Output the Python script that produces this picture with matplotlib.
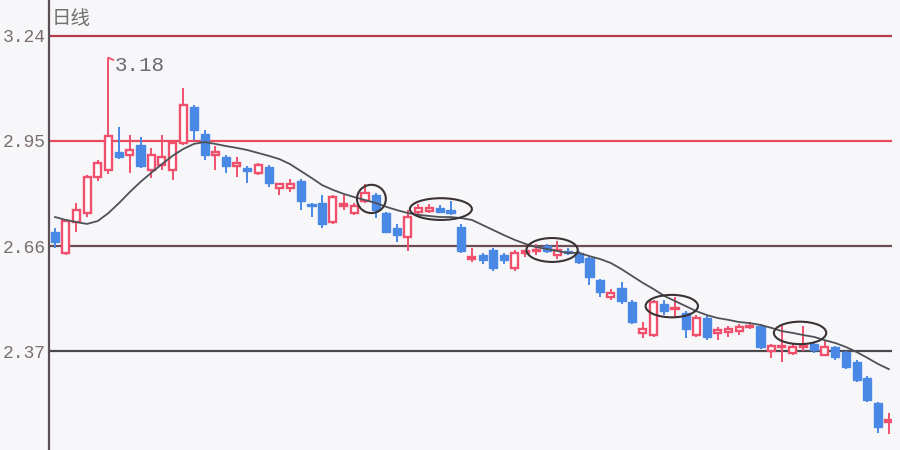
import matplotlib.pyplot as plt
import numpy as np
from matplotlib.patches import Ellipse

# 日线 K 线数据
opens = [2.70, 2.64, 2.725, 2.75, 2.85, 2.87, 2.92, 2.91, 2.94, 2.87,
         2.885, 2.87, 2.945, 3.045, 2.97, 2.91, 2.905, 2.88, 2.875, 2.862,
         2.878, 2.82, 2.82, 2.84, 2.775, 2.78, 2.725, 2.77, 2.75, 2.785,
         2.80, 2.75, 2.71, 2.685, 2.755, 2.758, 2.765, 2.76, 2.712, 2.625,
         2.635, 2.65, 2.635, 2.60, 2.64, 2.645, 2.66, 2.635, 2.645, 2.64,
         2.627, 2.566, 2.52, 2.545, 2.505, 2.42, 2.415, 2.50, 2.485, 2.475,
         2.415, 2.46, 2.42, 2.422, 2.425, 2.435, 2.44, 2.37, 2.38, 2.365,
         2.38, 2.39, 2.36, 2.38, 2.367, 2.34, 2.296, 2.227, 2.175]
highs = [2.71, 2.735, 2.78, 2.856, 2.898, 3.18, 2.99, 2.967, 2.96, 2.93,
         2.967, 2.95, 3.096, 3.05, 2.98, 2.935, 2.91, 2.905, 2.88, 2.89,
         2.885, 2.835, 2.845, 2.845, 2.78, 2.80, 2.80, 2.80, 2.78, 2.83,
         2.805, 2.755, 2.72, 2.76, 2.775, 2.775, 2.772, 2.785, 2.72, 2.655,
         2.64, 2.655, 2.64, 2.65, 2.65, 2.665, 2.665, 2.675, 2.655, 2.645,
         2.63, 2.57, 2.54, 2.56, 2.51, 2.45, 2.51, 2.51, 2.52, 2.48,
         2.47, 2.47, 2.435, 2.44, 2.445, 2.45, 2.445, 2.39, 2.44, 2.39,
         2.44, 2.395, 2.40, 2.385, 2.37, 2.345, 2.30, 2.23, 2.20]
lows = [2.655, 2.635, 2.70, 2.74, 2.84, 2.86, 2.90, 2.862, 2.875, 2.848,
        2.87, 2.842, 2.94, 2.953, 2.897, 2.87, 2.862, 2.85, 2.834, 2.855,
        2.823, 2.80, 2.81, 2.76, 2.74, 2.71, 2.72, 2.76, 2.745, 2.78,
        2.737, 2.695, 2.67, 2.645, 2.745, 2.75, 2.75, 2.745, 2.64, 2.615,
        2.61, 2.59, 2.61, 2.59, 2.63, 2.635, 2.64, 2.625, 2.635, 2.61,
        2.553, 2.52, 2.51, 2.50, 2.445, 2.405, 2.41, 2.47, 2.46, 2.405,
        2.41, 2.40, 2.40, 2.41, 2.415, 2.43, 2.375, 2.35, 2.34, 2.36,
        2.37, 2.365, 2.355, 2.345, 2.32, 2.285, 2.23, 2.143, 2.14]
closes = [2.67, 2.73, 2.76, 2.85, 2.89, 2.965, 2.905, 2.925, 2.88, 2.91,
          2.905, 2.945, 3.05, 2.98, 2.91, 2.92, 2.88, 2.89, 2.868, 2.884,
          2.835, 2.83, 2.83, 2.785, 2.77, 2.72, 2.795, 2.775, 2.77, 2.805,
          2.76, 2.70, 2.69, 2.74, 2.765, 2.765, 2.755, 2.75, 2.645, 2.63,
          2.62, 2.60, 2.62, 2.64, 2.645, 2.65, 2.645, 2.65, 2.64, 2.615,
          2.574, 2.533, 2.53, 2.507, 2.45, 2.43, 2.505, 2.48, 2.49, 2.43,
          2.46, 2.41, 2.428, 2.43, 2.435, 2.44, 2.38, 2.385, 2.385, 2.38,
          2.385, 2.372, 2.38, 2.353, 2.326, 2.29, 2.235, 2.16, 2.18]

# 均线
ma = [2.740, 2.732, 2.726, 2.721, 2.729, 2.751, 2.779, 2.809, 2.837, 2.862,
      2.886, 2.909, 2.928, 2.942, 2.947, 2.942, 2.936, 2.931, 2.925, 2.917,
      2.909, 2.900, 2.886, 2.867, 2.848, 2.828, 2.815, 2.804, 2.795, 2.787,
      2.779, 2.768, 2.759, 2.751, 2.746, 2.743, 2.740, 2.740, 2.737, 2.732,
      2.718, 2.704, 2.690, 2.677, 2.666, 2.657, 2.652, 2.646, 2.641, 2.641,
      2.632, 2.624, 2.613, 2.596, 2.577, 2.558, 2.541, 2.522, 2.508, 2.494,
      2.480, 2.469, 2.461, 2.456, 2.450, 2.447, 2.442, 2.434, 2.425, 2.420,
      2.414, 2.409, 2.400, 2.392, 2.381, 2.367, 2.351, 2.334, 2.320]

levels = [3.24, 2.95, 2.66, 2.37]
level_labels = ['3.24', '2.95', '2.66', '2.37']
level_colors = ['#b23c4c', '#ea4a5e', '#6a4c52', '#4c4a4c']

# 圈出的反弹位置: (中心索引, 中心价位, 宽, 高)
circles = [(29.6, 2.790, 2.7, 0.078),
           (36.1, 2.762, 5.8, 0.060),
           (46.5, 2.649, 4.8, 0.066),
           (57.7, 2.494, 4.9, 0.062),
           (69.7, 2.420, 4.9, 0.062)]

RED = '#f0506c'
BLUE = '#4a88e6'
BG = '#f7f7f9'

fig = plt.figure(figsize=(9, 4.5), dpi=100, facecolor=BG)
ax = fig.add_axes([49 / 900, 0, 843 / 900, 1])
ax.set_facecolor(BG)

x = np.arange(len(opens))
o = np.array(opens)
c = np.array(closes)
up = c >= o

# 水平价位线
for lv, col in zip(levels, level_colors):
    ax.axhline(lv, color=col, lw=1.6, zorder=1)

# 影线
ax.vlines(x[up], np.array(lows)[up], np.array(highs)[up], color=RED, lw=1.4, zorder=2)
ax.vlines(x[~up], np.array(lows)[~up], np.array(highs)[~up], color=BLUE, lw=1.4, zorder=2)

# 实体
body = np.maximum(np.abs(c - o), 0.004)
ax.bar(x[up], body[up], bottom=np.minimum(o, c)[up], width=0.66,
       facecolor='white', edgecolor=RED, linewidth=1.7, zorder=3)
ax.bar(x[~up], body[~up], bottom=np.minimum(o, c)[~up], width=0.76,
       facecolor=BLUE, edgecolor=BLUE, linewidth=1.0, zorder=3)

# 均线
ax.plot(x, ma, color='#4e5258', lw=1.3, zorder=4)

# 最高点标注
ax.plot([5, 5.45], [3.18, 3.174], color=RED, lw=1.3, zorder=2)
ax.text(5.6, 3.158, '3.18', fontsize=15, color='#6a6a70',
        family='Liberation Mono', va='center', ha='left')

for cx, cy, w, h in circles:
    ax.add_patch(Ellipse((cx, cy), w, h, fill=False, edgecolor='#3a3234',
                         lw=1.5, zorder=5))

ax.set_xlim(-0.56, 78.3)
ax.set_ylim(2.0966, 3.3394)
ax.set_xticks([])
ax.set_yticks(levels)
ax.set_yticklabels(level_labels, family='Liberation Mono', fontsize=13, color='#7a6e70')
ax.tick_params(axis='y', length=0, pad=2)
for s in ['top', 'right', 'bottom']:
    ax.spines[s].set_visible(False)
ax.spines['left'].set_color('#5a5056')
ax.spines['left'].set_linewidth(1.6)

fig.text(52 / 900, 1 - 19 / 450, '日线', family=['Noto Sans CJK SC', 'DejaVu Sans'],
         fontsize=14, color='#707070', va='center', ha='left')

fig.savefig('out.png', dpi=100, facecolor=BG)
